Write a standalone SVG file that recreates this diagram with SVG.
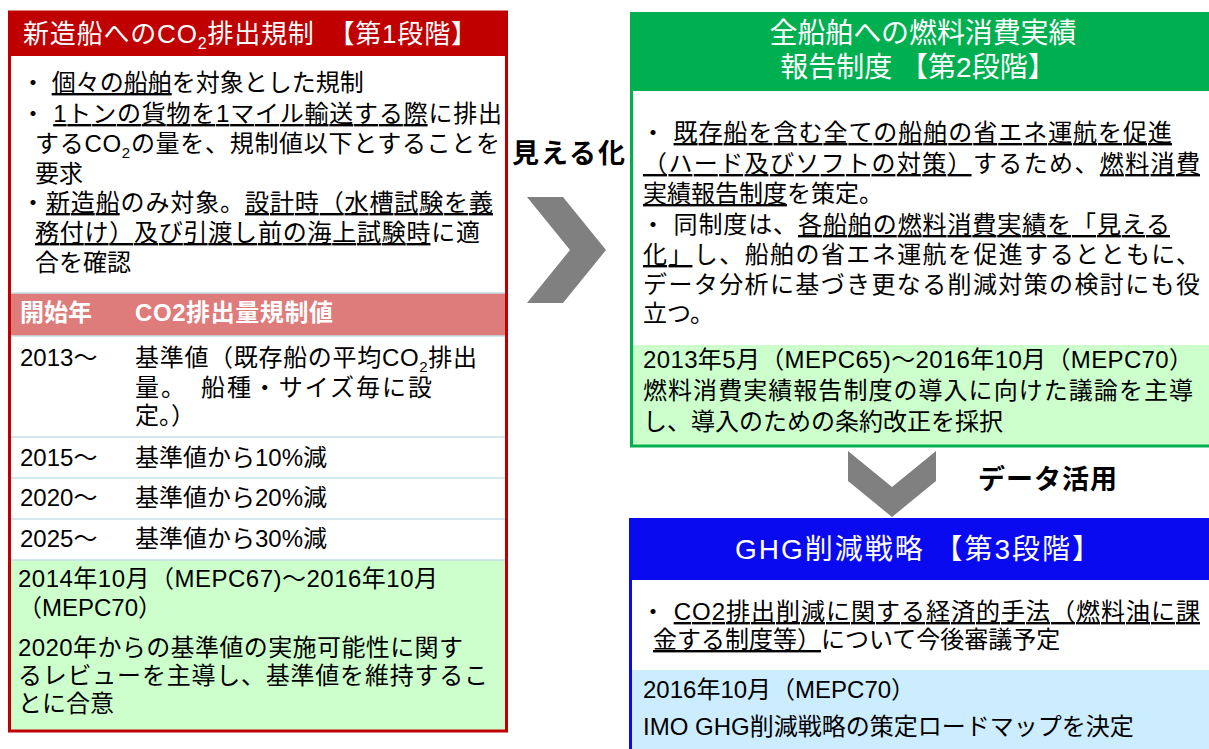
<svg xmlns="http://www.w3.org/2000/svg" width="1209" height="749" viewBox="0 0 1209 749">
<style>
text{font-family:"Liberation Sans","Noto Sans CJK JP",sans-serif;font-size:24px;fill:#000}
.t{fill:#fff;font-size:26px}
.t2{fill:#fff;font-size:28px}
.th{fill:#fff;font-weight:bold}
.b{font-weight:bold;font-size:27px}
.u{text-decoration:underline}
.rl{stroke:#C5DFE8;stroke-width:1.5}
</style>
<rect width="1209" height="749" fill="#fff"/>

<g id="connectors">
  <polygon points="527,197 563,197 606,250 563,303 527,303 570,250" fill="#808080"/>
  <polygon points="848,451 892,487 936,451 936,481 892,517 848,481" fill="#808080"/>
</g>

<g id="stage1">
  <rect x="9.5" y="12" width="497" height="719" fill="#fff"/>
  <rect x="9.5" y="12" width="497" height="44" fill="#C00000"/>
  <text class="t" x="23" y="43" textLength="454">新造船へのCO<tspan font-size="16" dy="6">2</tspan><tspan dy="-6">排出規制　【第1段階】</tspan></text>
  <text x="21" y="91">・ <tspan class="u">個々の船舶</tspan>を対象とした規制</text>
  <text x="21" y="122" textLength="481">・ <tspan class="u">1トンの貨物を1マイル輸送する際</tspan>に排出</text>
  <text x="35" y="152" textLength="465">するCO<tspan font-size="15" dy="6">2</tspan><tspan dy="-6">の量を、規制値以下とすることを</tspan></text>
  <text x="35" y="182">要求</text>
  <text x="21" y="211" textLength="472">・<tspan class="u">新造船</tspan>のみ対象。<tspan class="u">設計時（水槽試験を義</tspan></text>
  <text x="35" y="241" textLength="445"><tspan class="u">務付け）及び引渡し前の海上試験時</tspan>に適</text>
  <text x="35" y="271">合を確認</text>

  <rect x="10" y="293" width="495" height="43" fill="#DE7C7C"/>
  <text class="th" x="20" y="321">開始年</text>
  <text class="th" x="135" y="321" textLength="198">CO2排出量規制値</text>
  <line class="rl" x1="10" y1="293" x2="505" y2="293"/>
  <line class="rl" x1="10" y1="336" x2="505" y2="336"/>
  <line class="rl" x1="10" y1="437" x2="505" y2="437"/>
  <line class="rl" x1="10" y1="478" x2="505" y2="478"/>
  <line class="rl" x1="10" y1="519" x2="505" y2="519"/>
  <text x="20" y="366">2013～</text>
  <text x="135" y="366" textLength="342">基準値（既存船の平均CO<tspan font-size="15" dy="6">2</tspan><tspan dy="-6">排出</tspan></text>
  <text x="135" y="396" textLength="297">量。　船種・サイズ毎に設</text>
  <text x="135" y="424">定。）</text>
  <text x="20" y="466">2015～</text>
  <text x="135" y="466">基準値から10%減</text>
  <text x="20" y="506">2020～</text>
  <text x="135" y="506">基準値から20%減</text>
  <text x="20" y="547">2025～</text>
  <text x="135" y="547">基準値から30%減</text>

  <rect x="10" y="560" width="495" height="170" fill="#CCFFCC"/>
  <line class="rl" x1="10" y1="560" x2="505" y2="560"/>
  <text x="18" y="587" textLength="420">2014年10月（MEPC67)～2016年10月</text>
  <text x="18" y="616">（MEPC70）</text>
  <text x="18" y="656" textLength="445">2020年からの基準値の実施可能性に関す</text>
  <text x="18" y="684" textLength="470">るレビューを主導し、基準値を維持するこ</text>
  <text x="18" y="712">とに合意</text>
  <rect x="9.5" y="12" width="497" height="719" fill="none" stroke="#C00000" stroke-width="3"/>
</g>

<g id="label-mieruka">
  <text class="b" x="512" y="163" textLength="113">見える化</text>
</g>

<g id="stage2">
  <rect x="631.5" y="12" width="590" height="434" fill="#fff"/>
  <rect x="630" y="12" width="590" height="79" fill="#00B050"/>
  <text class="t2" x="923" y="43" text-anchor="middle" textLength="307">全船舶への燃料消費実績</text>
  <text class="t2" x="918" y="77" text-anchor="middle">報告制度 【第2段階】</text>
  <text x="641" y="141" textLength="531">・ <tspan class="u">既存船を含む全ての船舶の省エネ運航を促進</tspan></text>
  <text x="643" y="172" textLength="557"><tspan class="u">（ハード及びソフトの対策）</tspan>するため、<tspan class="u">燃料消費</tspan></text>
  <text x="643" y="202"><tspan class="u">実績報告制度</tspan>を策定。</text>
  <text x="641" y="233" textLength="529">・ 同制度は、<tspan class="u">各船舶の燃料消費実績を「見える</tspan></text>
  <text x="643" y="263" textLength="557"><tspan class="u">化」</tspan>し、船舶の省エネ運航を促進するとともに、</text>
  <text x="643" y="293" textLength="557">データ分析に基づき更なる削減対策の検討にも役</text>
  <text x="643" y="322">立つ。</text>
  <rect x="632" y="345" width="580" height="100" fill="#CCFFCC"/>
  <text x="643" y="368" textLength="550">2013年5月（MEPC65)～2016年10月（MEPC70）</text>
  <text x="643" y="399" textLength="550">燃料消費実績報告制度の導入に向けた議論を主導</text>
  <text x="643" y="430">し、導入のための条約改正を採択</text>
  <path d="M631.5,12 V446 H1212" fill="none" stroke="#00B050" stroke-width="3"/>
</g>

<g id="label-data">
  <text class="b" x="978" y="489" textLength="139">データ活用</text>
</g>

<g id="stage3">
  <rect x="629" y="518" width="590" height="240" fill="#fff"/>
  <rect x="629" y="518" width="590" height="62" fill="#0A0AF0"/>
  <text class="t2" x="735" y="559" textLength="365">GHG削減戦略 【第3段階】</text>
  <text x="641" y="620" textLength="559">・ <tspan class="u">CO2排出削減に関する経済的手法（燃料油に課</tspan></text>
  <text x="653" y="648"><tspan class="u">金する制度等）</tspan>について今後審議予定</text>
  <rect x="630" y="670" width="590" height="90" fill="#CCECFF"/>
  <text x="643" y="698">2016年10月（MEPC70）</text>
  <text x="643" y="735">IMO GHG削減戦略の策定ロードマップを決定</text>
  <line x1="630.5" y1="518" x2="630.5" y2="749" stroke="#0A0AF0" stroke-width="3"/>
</g>
</svg>
